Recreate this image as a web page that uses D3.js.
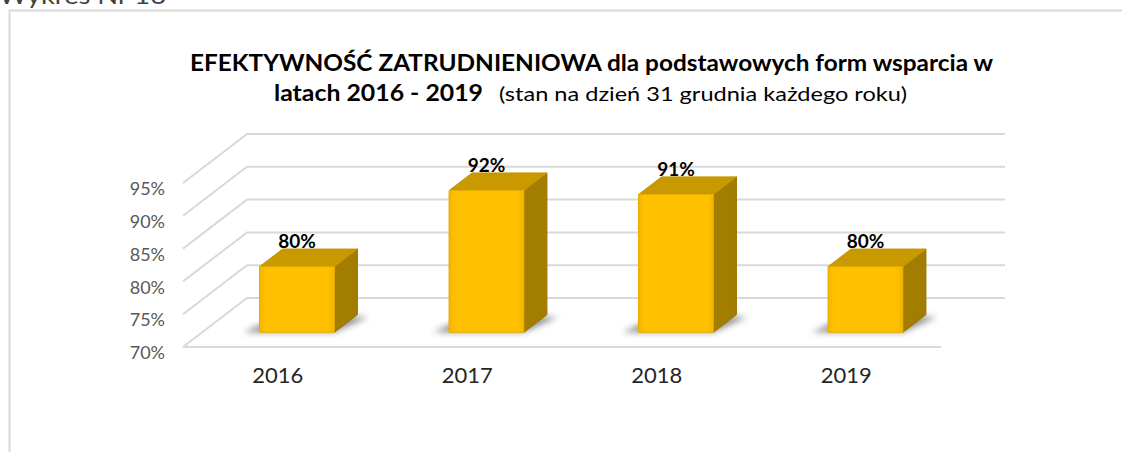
<!DOCTYPE html>
<html>
<head>
<meta charset="utf-8">
<script src="https://d3js.org/d3.v7.min.js"></script>
<style>
  html, body { margin: 0; background: #fff; overflow: hidden; }
  svg { display: block; }
  text { font-family: Lato, "Open Sans", sans-serif; }
</style>
</head>
<body>
<div id="my_dataviz"></div>
<script>

// chart data
var years = ["2016", "2017", "2018", "2019"];
var values = [80, 91.6, 91, 80];
var valueLabels = ["80%", "92%", "91%", "80%"];
var yTicks = [70, 75, 80, 85, 90, 95];

var width = 1122, height = 452;

var svg = d3.select("#my_dataviz")
  .append("svg")
    .attr("width", width)
    .attr("height", height);

// shadow blur + front face shading
var defs = svg.append("defs");
defs.append("filter").attr("id", "blur")
    .attr("x", "-50%").attr("y", "-50%").attr("width", "200%").attr("height", "200%")
  .append("feGaussianBlur").attr("stdDeviation", 3);

var grad = defs.append("linearGradient").attr("id", "frontGrad")
    .attr("x1", "0").attr("x2", "1").attr("y1", "0").attr("y2", "0");
grad.append("stop").attr("offset", "0").attr("stop-color", "#F2B500");
grad.append("stop").attr("offset", "0.08").attr("stop-color", "#FFC000");
grad.append("stop").attr("offset", "0.92").attr("stop-color", "#FFC000");
grad.append("stop").attr("offset", "1").attr("stop-color", "#F2B500");

// "Wykres Nr 16" caption, cut at the top like in the source document
svg.append("text")
    .attr("x", -1).attr("y", 4)
    .attr("font-size", 23)
    .attr("fill", "#404040")
    .attr("textLength", 167)
    .attr("lengthAdjust", "spacingAndGlyphs")
    .text("Wykres Nr 16");

// chart frame: only top and left edges are in view
svg.append("path")
    .attr("d", "M" + width + ",10.5H9.5V" + height)
    .attr("fill", "none")
    .attr("stroke", "#d9d9d9")
    .attr("stroke-width", 2);

// title
svg.append("text")
    .attr("x", 190).attr("y", 71)
    .attr("font-size", 22).attr("font-weight", "bold")
    .attr("textLength", 803).attr("lengthAdjust", "spacingAndGlyphs")
    .text("EFEKTYWNOŚĆ ZATRUDNIENIOWA dla podstawowych form wsparcia w");
svg.append("text")
    .attr("x", 274).attr("y", 101)
    .attr("font-size", 22).attr("font-weight", "bold")
    .attr("textLength", 209).attr("lengthAdjust", "spacingAndGlyphs")
    .text("latach 2016 - 2019");
svg.append("text")
    .attr("x", 499).attr("y", 101)
    .attr("font-size", 19)
    .attr("textLength", 408).attr("lengthAdjust", "spacingAndGlyphs")
    .text("(stan na dzień 31 grudnia każdego roku)");

// scales: front edge of the floor, depth goes up-right
var x = d3.scaleBand().domain(years).range([183, 941]);
var y = d3.scaleLinear().domain([70, 95]).range([347, 183]);
var dxDepth = 64, dyDepth = -49;

function pt(px, v, z) {
  return [px + dxDepth * z, y(v) + dyDepth * z];
}
function poly(points) {
  return "M" + points.map(function(p) { return p[0] + "," + p[1]; }).join("L") + "Z";
}

// gridlines: side wall + back wall
var grid = svg.append("g");
yTicks.forEach(function(t) {
  var a = pt(x.range()[0], t, 0), b = pt(x.range()[0], t, 1), c = pt(x.range()[1], t, 1);
  grid.append("path")
    .attr("d", "M" + a + "L" + b + "L" + c)
    .attr("fill", "none")
    .attr("stroke", "#d9d9d9")
    .attr("stroke-width", 2);
});
grid.append("line")
    .attr("x1", x.range()[0]).attr("x2", x.range()[1])
    .attr("y1", y(70)).attr("y2", y(70))
    .attr("stroke", "#d9d9d9")
    .attr("stroke-width", 2);

// y axis labels
var yAxis = svg.append("g")
    .attr("transform", "translate(165,6)")
    .call(d3.axisLeft(y).tickValues(yTicks).tickSize(0).tickPadding(0)
      .tickFormat(function(d) { return d + "%"; }));
yAxis.select(".domain").remove();
yAxis.selectAll("text")
    .attr("font-family", "Lato, sans-serif")
    .attr("font-size", 18)
    .attr("fill", "#595959");

// x axis labels
var xAxis = svg.append("g")
    .attr("transform", "translate(0," + (y(70) + 20) + ")")
    .call(d3.axisBottom(x).tickSize(0).tickPadding(0));
xAxis.select(".domain").remove();
xAxis.selectAll("text")
    .attr("font-family", "Lato, sans-serif")
    .attr("font-size", 22)
    .attr("fill", "#262626");

// bars
var z0 = 0.3, z1 = 0.66;
var bw = x.bandwidth() * 0.395;

var bars = svg.selectAll(".bar")
  .data(years)
  .enter()
  .append("g")
    .attr("class", "bar");

// floor shadow
bars.append("path")
    .attr("d", function(d) {
      var xl = x(d) + (x.bandwidth() - bw) / 2, xr = xl + bw;
      return poly([pt(xl - 16, 70, z0), pt(xr, 70, z0), pt(xr + 14, 70, z1 - 0.05), pt(xl, 70, z1)]);
    })
    .attr("fill", "#6b6b6b")
    .attr("opacity", 0.75)
    .attr("filter", "url(#blur)");

// right side
bars.append("path")
    .attr("d", function(d, i) {
      var xl = x(d) + (x.bandwidth() - bw) / 2, xr = xl + bw;
      return poly([pt(xr, values[i], z0), pt(xr, values[i], z1), pt(xr, 70, z1), pt(xr, 70, z0)]);
    })
    .attr("fill", "#A37D00")
    .attr("stroke", "#987400")
    .attr("stroke-linejoin", "round");

// top
bars.append("path")
    .attr("d", function(d, i) {
      var xl = x(d) + (x.bandwidth() - bw) / 2, xr = xl + bw;
      return poly([pt(xl, values[i], z0), pt(xr, values[i], z0), pt(xr, values[i], z1), pt(xl, values[i], z1)]);
    })
    .attr("fill", "#C99A00")
    .attr("stroke", "#C39500")
    .attr("stroke-linejoin", "round");

// front
bars.append("path")
    .attr("d", function(d, i) {
      var xl = x(d) + (x.bandwidth() - bw) / 2, xr = xl + bw;
      return poly([pt(xl, 70, z0), pt(xr, 70, z0), pt(xr, values[i], z0), pt(xl, values[i], z0)]);
    })
    .attr("fill", "url(#frontGrad)")
    .attr("stroke", "#E8AE00")
    .attr("stroke-linejoin", "round");

// value labels
bars.append("text")
    .attr("x", function(d) { return pt(x(d) + x.bandwidth() / 2, 70, z0)[0]; })
    .attr("y", function(d, i) { return pt(0, values[i], z1)[1] - 1; })
    .attr("text-anchor", "middle")
    .attr("font-size", 19)
    .attr("font-weight", "bold")
    .attr("fill", "#000")
    .text(function(d, i) { return valueLabels[i]; });

</script>
</body>
</html>
